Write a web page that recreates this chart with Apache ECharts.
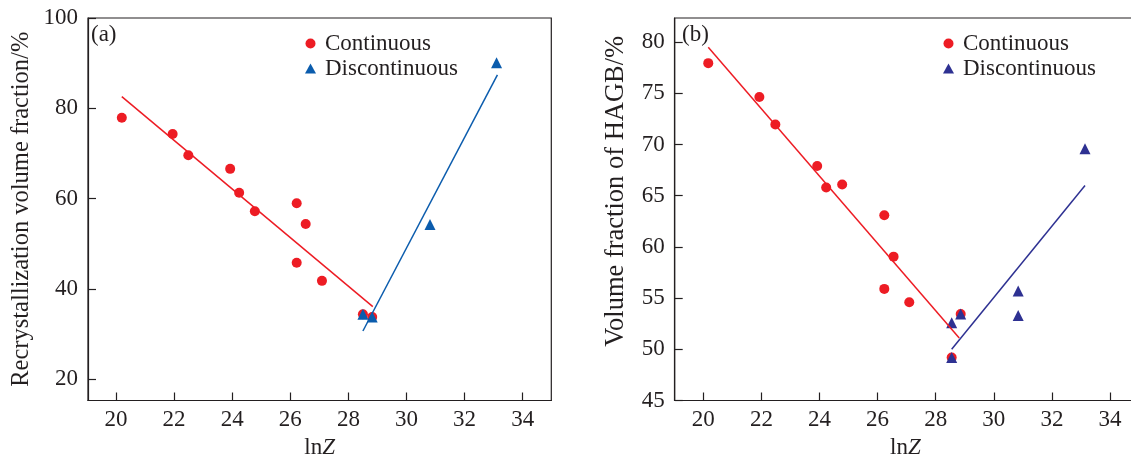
<!DOCTYPE html>
<html>
<head>
<meta charset="utf-8">
<script src="https://cdn.jsdelivr.net/npm/echarts@6/dist/echarts.min.js"></script>
<style>
html,body{margin:0;padding:0;background:#fff;}
#chart{width:1131px;height:455px;}
</style>
</head>
<body>
<div id="chart"></div>
<script>
// ---------- data ----------
const xTicks = [20, 22, 24, 26, 28, 30, 32, 34];
const yTicksA = [20, 40, 60, 80, 100];
const yTicksB = [45, 50, 55, 60, 65, 70, 75, 80];

// Panel (a): recrystallization volume fraction
const contA = [
  [20.2, 77.9], [21.95, 74.3], [22.49, 69.6], [23.93, 66.6], [24.24, 61.3],
  [24.78, 57.2], [26.22, 59.0], [26.22, 45.8], [26.53, 54.4], [27.09, 41.8],
  [28.5, 34.4], [28.82, 33.8]
];
const discA = [[28.5, 34.4], [28.82, 33.8], [30.81, 54.3], [33.1, 90.1]];
const fitContA = [[20.2, 82.6], [28.84, 36.1]];
const fitDiscA = [[28.5, 30.7], [33.13, 87.4]];

// Panel (b): volume fraction of HAGB
const contB = [
  [20.17, 77.95], [21.93, 74.65], [22.48, 71.95], [23.92, 67.9], [24.23, 65.8],
  [24.78, 66.1], [26.23, 63.1], [26.55, 59.05], [26.23, 55.9], [27.09, 54.6],
  [28.86, 53.45], [28.55, 49.2]
];
const discB = [[28.55, 52.6], [28.86, 53.45], [28.55, 49.2], [30.84, 55.7], [30.84, 53.3], [33.14, 69.6]];
const fitContB = [[20.17, 79.5], [28.81, 51.1]];
const fitDiscB = [[28.55, 50.0], [33.14, 66.0]];

// ---------- style ----------
const FONT = '"Liberation Serif", "Times New Roman", serif';
const INK = '#231f20';
const RED = '#ed1c24';
const BLUE_A = '#0b5cad';
const BLUE_B = '#2e3192';

function xAxis(gridIndex, min, max) {
  return {
    type: 'value', gridIndex, min, max,
    name: '{n|ln}{z|Z}', nameLocation: 'middle', nameGap: 31,
    nameTextStyle: {
      rich: {
        n: { fontFamily: FONT, fontSize: 23, color: INK },
        z: { fontFamily: FONT, fontSize: 23, color: INK, fontStyle: 'italic' }
      }
    },
    axisLine: { show: true, lineStyle: { color: INK, width: 1.2 } },
    axisTick: { show: true, inside: true, length: 8, customValues: xTicks, lineStyle: { color: INK, width: 1.2 } },
    axisLabel: { customValues: xTicks, margin: 8, fontFamily: FONT, fontSize: 23, color: INK },
    splitLine: { show: false }
  };
}
function yAxis(gridIndex, min, max, ticks, name, gap, nameSize, namePad) {
  return {
    type: 'value', gridIndex, min, max,
    name, nameLocation: 'middle', nameGap: gap,
    nameTextStyle: { fontFamily: FONT, fontSize: nameSize, color: INK, padding: namePad },
    axisLine: { show: true, lineStyle: { color: INK, width: 1.2 } },
    axisTick: { show: true, inside: true, length: 8, customValues: ticks, lineStyle: { color: INK, width: 1.2 } },
    axisLabel: { customValues: ticks, margin: 10, fontFamily: FONT, fontSize: 23, color: INK },
    splitLine: { show: false }
  };
}
function scatter(name, data, xi, color, symbol, size) {
  return { type: 'scatter', name, data, xAxisIndex: xi, yAxisIndex: xi,
    symbol, symbolSize: size, itemStyle: { color, opacity: 1 } };
}
function fit(name, data, xi, color) {
  return { type: 'line', name, data, xAxisIndex: xi, yAxisIndex: xi,
    showSymbol: false, symbol: 'none', silent: true,
    lineStyle: { color, width: 1.5 } };
}
function legend(left, blue) {
  return {
    left, top: 32, orient: 'vertical', padding: 0, itemGap: 2,
    itemWidth: 11, itemHeight: 10,
    textStyle: { fontFamily: FONT, fontSize: 23, color: INK, lineHeight: 23, padding: [0, 0, 0, 4] },
    data: [
      { name: 'Continuous', icon: 'circle', itemStyle: { color: RED } },
      { name: 'Discontinuous', icon: 'triangle', itemStyle: { color: blue } }
    ],
    selectedMode: false
  };
}

const gridCommon = { show: true, borderColor: INK, borderWidth: 1.2, backgroundColor: 'transparent', outerBoundsMode: 'none', containLabel: false };

const option = {
  animation: false,
  backgroundColor: '#fff',
  title: [
    { text: '(a)', left: 91, top: 23, padding: 0, textStyle: { fontFamily: FONT, fontSize: 23, fontWeight: 'normal', color: INK } },
    { text: '(b)', left: 682, top: 23, padding: 0, textStyle: { fontFamily: FONT, fontSize: 23, fontWeight: 'normal', color: INK } }
  ],
  legend: [legend(305, BLUE_A), legend(943, BLUE_B)],
  grid: [
    Object.assign({ left: 88, top: 18, width: 463.3, height: 382.5 }, gridCommon),
    Object.assign({ left: 674.7, top: 18, width: 461.3, height: 382.5 }, gridCommon)
  ],
  xAxis: [xAxis(0, 19.036, 34.985), xAxis(1, 19.015, 34.895)],
  yAxis: [
    yAxis(0, 15.31, 100, yTicksA, 'Recrystallization volume fraction/%', 54, 24.5, 0),
    yAxis(1, 45, 82.36, yTicksB, 'Volume fraction of HAGB/%', 45, 26.5, [0, 0, 0, 36])
  ],
  series: [
    fit('Continuous fit (a)', fitContA, 0, RED),
    fit('Discontinuous fit (a)', fitDiscA, 0, BLUE_A),
    scatter('Continuous', contA, 0, RED, 'circle', 10),
    scatter('Discontinuous', discA, 0, BLUE_A, 'triangle', 11),
    fit('Continuous fit (b)', fitContB, 1, RED),
    fit('Discontinuous fit (b)', fitDiscB, 1, BLUE_B),
    scatter('Continuous', contB, 1, RED, 'circle', 10),
    scatter('Discontinuous', discB, 1, BLUE_B, 'triangle', 11)
  ]
};

const chart = echarts.init(document.getElementById('chart'), null, { renderer: 'canvas' });
chart.setOption(option);
</script>
</body>
</html>
